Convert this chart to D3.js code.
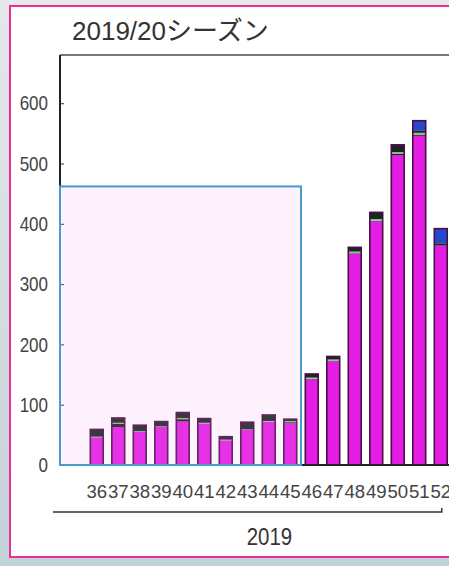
<!DOCTYPE html>
<html>
<head>
<meta charset="utf-8">
<script src="https://cdn.jsdelivr.net/npm/d3@7"></script>
<style>
  html, body { margin: 0; padding: 0; background: #dfe3e6; }
  svg { display: block; }
  text { font-family: "Liberation Sans", "Noto Sans CJK JP", sans-serif; }
</style>
</head>
<body>
<svg id="chart" width="449" height="566"></svg>
<script>
// Weekly detections, 2019/20 season (week 36 – week 52 of 2019)
const weeks = ["36","37","38","39","40","41","42","43","44","45","46","47","48","49","50","51","52"];
const h1Counts    = [46, 63, 55, 63, 72, 69, 41, 58, 72, 69, 142, 172, 350, 404, 514, 546, 364];
const h3Counts    = [0, 5, 0, 0, 4, 0, 0, 0, 0, 2, 1, 1, 1, 1, 2, 2, 3];
const bVicCounts  = [1, 2, 1, 1, 2, 1, 1, 1, 1, 2, 2, 2, 3, 3, 3, 3, 0];
const otherCounts = [12, 8, 10, 8, 9, 7, 5, 12, 10, 3, 6, 5, 7, 11, 12, 4, 1];
const bYamCounts  = [0, 0, 0, 0, 0, 0, 0, 0, 0, 0, 0, 0, 0, 0, 0, 16, 24];
const yTicks = [0, 100, 200, 300, 400, 500, 600];
const yMax = 680;
const highlightWeeks = ["36","45"];
const highlightTop = 462;
const seasonTitle = "2019/20シーズン";
const yearLabel = "2019";

const keys = ["h1", "h3", "bvic", "other", "byam"];
const colors = { h1: "#e41de4", h3: "#241a26", bvic: "#86c486", other: "#1b2522", byam: "#2548cf" };

const rows = weeks.map((w, i) => ({
  week: w, h1: h1Counts[i], h3: h3Counts[i], bvic: bVicCounts[i],
  other: otherCounts[i], byam: bYamCounts[i]
}));
const total = d => d.h1 + d.h3 + d.bvic + d.other + d.byam;

const svg = d3.select("#chart");
const W = 449, H = 566;

// page backdrop and framed panel
const defs = svg.append("defs");
const grad = defs.append("linearGradient").attr("id", "bg").attr("x1", 0).attr("y1", 0).attr("x2", 0).attr("y2", 1);
grad.append("stop").attr("offset", "0%").attr("stop-color", "#e6e8ea");
grad.append("stop").attr("offset", "100%").attr("stop-color", "#c2d2d9");
svg.append("rect").attr("width", W).attr("height", H).attr("fill", "url(#bg)");
svg.append("rect").attr("x", 10).attr("y", 6).attr("width", 460).attr("height", 551)
  .attr("fill", "#ffffff").attr("stroke", "#ee2c92").attr("stroke-width", 2);

const plot = { left: 60, right: 449, top: 55, bottom: 465 };

const x = d3.scaleBand().domain(weeks).range([86, 86 + 21.5 * weeks.length]).paddingInner(0.4).paddingOuter(0.2);
const y = d3.scaleLinear().domain([0, yMax]).range([plot.bottom, plot.top]);

// title
svg.append("text").attr("x", 72).attr("y", 40)
  .attr("font-size", 26).attr("fill", "#333").text(seasonTitle);

// top frame line
svg.append("line").attr("x1", plot.left).attr("x2", plot.right).attr("y1", plot.top).attr("y2", plot.top)
  .attr("stroke", "#777").attr("stroke-width", 2);

// stacked bars
const stack = d3.stack().keys(keys)(rows);
const gBars = svg.append("g");
stack.forEach(layer => {
  gBars.append("g").attr("fill", colors[layer.key])
    .selectAll("rect").data(layer).join("rect")
    .attr("x", d => x(d.data.week))
    .attr("width", x.bandwidth())
    .attr("y", d => y(d[1]))
    .attr("height", d => Math.max(0, y(d[0]) - y(d[1])));
});
// bar outlines
gBars.append("g").selectAll("rect").data(rows).join("rect")
  .attr("x", d => x(d.week))
  .attr("width", x.bandwidth())
  .attr("y", d => y(total(d)))
  .attr("height", d => plot.bottom - y(total(d)))
  .attr("fill", "none").attr("stroke", "#4a1046").attr("stroke-width", 1.6);

// y axis
const yAxis = d3.axisRight(y).tickValues(yTicks).tickSize(4).tickFormat("");
const gy = svg.append("g").attr("transform", `translate(${plot.left},0)`).call(yAxis);
gy.select(".domain").attr("d", `M0,${plot.top}V${plot.bottom}`).attr("stroke", "#222").attr("stroke-width", 2);
gy.selectAll(".tick line").attr("stroke", "#333");
svg.append("g").selectAll("text").data(yTicks).join("text")
  .attr("transform", d => `translate(48,${y(d)}) scale(0.85,1)`)
  .attr("dy", "0.36em")
  .attr("text-anchor", "end").attr("font-size", 20).attr("fill", "#444")
  .text(d => d);

// x axis
svg.append("line").attr("x1", plot.left).attr("x2", plot.right).attr("y1", plot.bottom).attr("y2", plot.bottom)
  .attr("stroke", "#222").attr("stroke-width", 2);
const xAxis = d3.axisBottom(x).tickSize(0).tickPadding(0);
const gx = svg.append("g").attr("transform", `translate(0,${plot.bottom})`).call(xAxis);
gx.select(".domain").remove();
gx.selectAll(".tick text")
  .attr("font-family", "'Liberation Sans', sans-serif")
  .attr("font-size", 19).attr("fill", "#444")
  .attr("y", 0).attr("dy", 0)
  .attr("transform", "translate(0,33) scale(0.98,1)");

// highlighted period
const hx0 = plot.left;
const hx1 = x(highlightWeeks[1]) + x.bandwidth() + x.step() * x.paddingInner() / 2;
svg.append("rect").attr("x", hx0).attr("y", y(highlightTop))
  .attr("width", hx1 - hx0).attr("height", plot.bottom - y(highlightTop))
  .attr("fill", "#f0a8f0").attr("fill-opacity", 0.15)
  .attr("stroke", "#4a9bcb").attr("stroke-width", 2);

// year bracket
const bx0 = 53, bx1 = x(weeks[weeks.length - 1]) + x.bandwidth() / 2 + 1;
svg.append("path").attr("d", `M${bx0},512H${bx1}V508`).attr("fill", "none")
  .attr("stroke", "#333").attr("stroke-width", 1.5);
svg.append("text")
  .attr("transform", `translate(${(bx0 + bx1) / 2 + 22},545) scale(0.85,1)`)
  .attr("text-anchor", "middle").attr("font-size", 24).attr("fill", "#333").text(yearLabel);
</script>
</body>
</html>
